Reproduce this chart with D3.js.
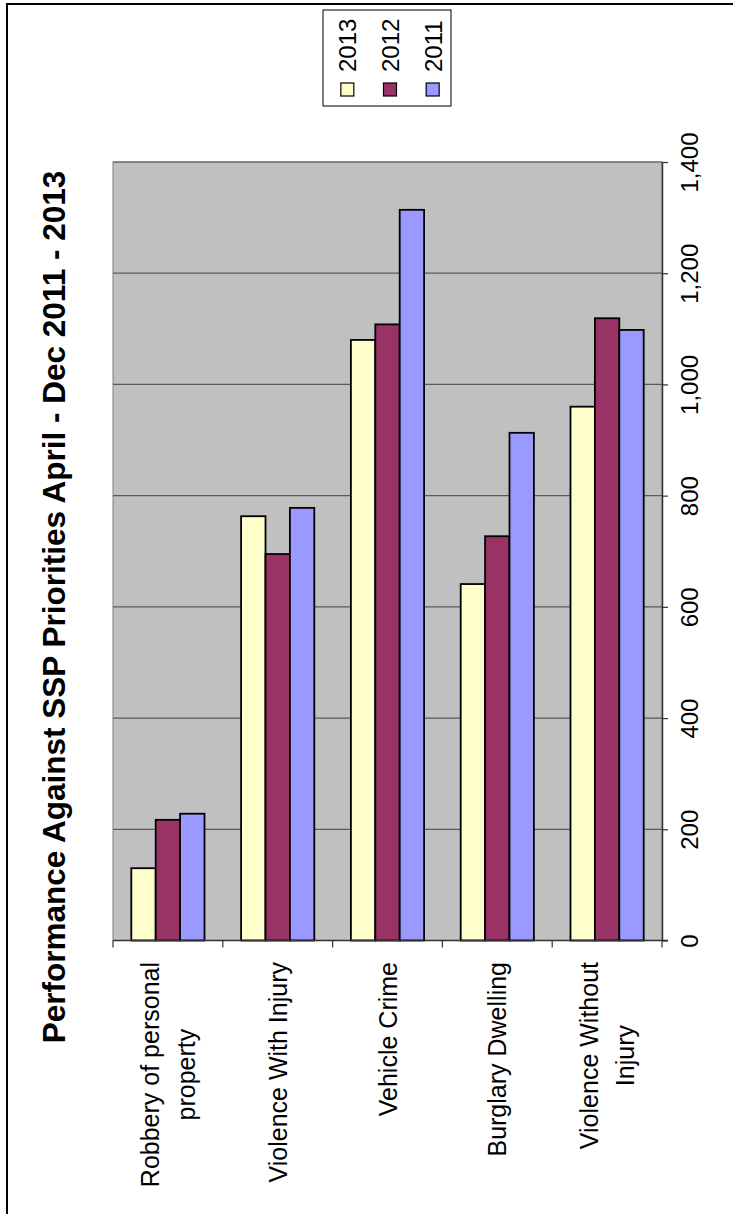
<!DOCTYPE html>
<html>
<head>
<meta charset="utf-8">
<script src="https://cdn.jsdelivr.net/npm/d3@7"></script>
<style>
  body { margin: 0; background: #fff; }
  text { font-family: "Liberation Sans", Arial, sans-serif; }
</style>
</head>
<body>
<div class="svg-container"></div>
<script>
// chart data
const categories = ["Robbery of personal property", "Violence With Injury", "Vehicle Crime", "Burglary Dwelling", "Violence Without Injury"];
const categoryLines = [["Robbery of personal", "property"], ["Violence With Injury"], ["Vehicle Crime"], ["Burglary Dwelling"], ["Violence Without", "Injury"]];
const years = ["2013", "2012", "2011"];
const values2013 = [130, 763, 1080, 641, 960];
const values2012 = [217, 695, 1108, 727, 1119];
const values2011 = [228, 778, 1314, 913, 1098];
const valueTicks = [0, 200, 400, 600, 800, 1000, 1200, 1400];
const title = "Performance Against SSP Priorities April - Dec 2011 - 2013";

const seriesValues = [values2013, values2012, values2011];
const colors = ["#FFFFCC", "#993366", "#9999FF"];

let width = 733;
let height = 1214;
let svg = d3.select(".svg-container")
    .append("svg")
    .attr("width", width)
    .attr("height", height);

// outer frame (runs off the right/bottom edge of the picture)
svg.append("rect")
    .attr("x", 7).attr("y", 4)
    .attr("width", 900).attr("height", 1400)
    .attr("fill", "none").attr("stroke", "#000").attr("stroke-width", 2);

let x0 = d3.scaleBand().domain(categories).range([113, 662]).padding(0);
let x1 = d3.scaleBand().domain(years).range([0, x0.bandwidth()]).paddingInner(0).paddingOuter(0.75);
let y = d3.scaleLinear().domain([0, 1400]).range([940.5, 162]);

// plot area
svg.append("rect")
    .attr("x", 113).attr("y", y(1400))
    .attr("width", 662 - 113).attr("height", y(0) - y(1400))
    .attr("fill", "#C0C0C0")
    .attr("stroke", "#808080").attr("stroke-width", 1);

svg.append("g").selectAll("line")
    .data(valueTicks.filter(d => d > 0))
    .enter().append("line")
    .attr("x1", 113).attr("x2", 662)
    .attr("y1", d => y(d)).attr("y2", d => y(d))
    .attr("stroke", "#5a5a5a").attr("stroke-width", 1.2);

// bars
let groups = svg.append("g").selectAll("g")
    .data(categories)
    .enter().append("g")
    .attr("transform", d => "translate(" + x0(d) + ",0)");
groups.selectAll("rect")
    .data((c, ci) => years.map((yr, si) => ({ yr: yr, si: si, v: seriesValues[si][ci] })))
    .enter().append("rect")
    .attr("x", d => x1(d.yr))
    .attr("width", x1.bandwidth())
    .attr("y", d => y(d.v))
    .attr("height", d => y(0) - y(d.v))
    .attr("fill", d => colors[d.si])
    .attr("stroke", "#000").attr("stroke-width", 1.8);

// value axis on the right
let yAxis = svg.append("g")
    .attr("transform", "translate(662,0)")
    .call(d3.axisRight(y).tickValues(valueTicks).tickSize(6).tickSizeOuter(0).tickFormat(d3.format(",")));
yAxis.select(".domain").attr("stroke", "#333").attr("stroke-width", 1.5);
yAxis.selectAll(".tick line").attr("stroke", "#333").attr("stroke-width", 1.2);
yAxis.selectAll(".tick text")
    .attr("x", 0).attr("dy", 0)
    .attr("transform", "translate(36,0) rotate(-90)")
    .attr("text-anchor", "middle")
    .attr("fill", "#000")
    .attr("font-size", "24px")
    .attr("font-family", "Liberation Sans, Arial, sans-serif");

// category axis
let bounds = categories.map(c => x0(c)).concat([x0.range()[1]]);
svg.append("line")
    .attr("x1", 113).attr("x2", 668)
    .attr("y1", y(0)).attr("y2", y(0))
    .attr("stroke", "#333").attr("stroke-width", 1.5);
svg.append("g").selectAll("line")
    .data(bounds)
    .enter().append("line")
    .attr("x1", d => d).attr("x2", d => d)
    .attr("y1", y(0)).attr("y2", y(0) + 7)
    .attr("stroke", "#333").attr("stroke-width", 1.2);

// category labels (rotated, lines centred, block ends next to the axis)
let labelSize = 25, lineGap = 36;
let labels = svg.append("g").selectAll("g")
    .data(categories)
    .enter().append("g")
    .attr("transform", d => "translate(" + (x0(d) + x0.bandwidth() / 2) + ",962) rotate(-90)");
labels.each(function (c, ci) {
    let g = d3.select(this);
    let lines = categoryLines[ci];
    let texts = g.selectAll("text").data(lines).enter().append("text")
        .attr("font-size", labelSize + "px")
        .attr("text-anchor", "middle")
        .attr("y", (d, i) => (i - (lines.length - 1) / 2) * lineGap + labelSize * 0.36)
        .text(d => d);
    let maxLen = d3.max(texts.nodes(), n => n.getComputedTextLength());
    texts.attr("x", -maxLen / 2);
});

// title
svg.append("text")
    .attr("transform", "translate(65,607) rotate(-90)")
    .attr("text-anchor", "middle")
    .attr("font-size", "31.5px")
    .attr("font-weight", "bold")
    .text(title);

// legend
let legendX = d3.scaleBand().domain(years).range([326, 454]);
svg.append("rect")
    .attr("x", 323).attr("y", 10)
    .attr("width", 128).attr("height", 96)
    .attr("fill", "#fff").attr("stroke", "#000").attr("stroke-width", 1);
let leg = svg.append("g").selectAll("g")
    .data(years)
    .enter().append("g")
    .attr("transform", d => "translate(" + (legendX(d) + legendX.bandwidth() / 2) + ",0)");
leg.append("rect")
    .attr("x", -6.5).attr("y", 83)
    .attr("width", 13).attr("height", 13)
    .attr("fill", (d, i) => colors[i])
    .attr("stroke", "#000").attr("stroke-width", 1.2);
leg.append("text")
    .attr("transform", "translate(9,72) rotate(-90)")
    .attr("text-anchor", "start")
    .attr("font-size", "24px")
    .text(d => d);
</script>
</body>
</html>
